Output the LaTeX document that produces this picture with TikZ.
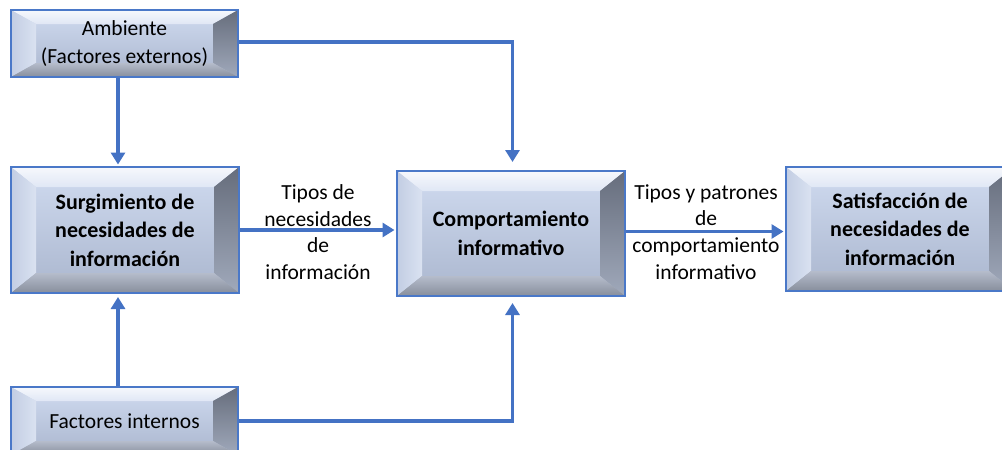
\documentclass[tikz,border=0pt]{standalone}
\usepackage{fontspec}
\setmainfont{Carlito}
\usetikzlibrary{arrows.meta,calc}
\definecolor{ablue}{HTML}{4472C4}
\definecolor{bord}{HTML}{4A78C8}
\definecolor{cTop}{HTML}{D0DBF0}
\definecolor{cBot}{HTML}{AAB6CE}
\definecolor{tfA}{HTML}{F6F8FC}
\definecolor{tfB}{HTML}{E0E7F5}
\definecolor{lfA}{HTML}{C2CDE3}
\definecolor{lfB}{HTML}{DAE2F1}
\definecolor{rfA}{HTML}{666D7C}
\definecolor{rfB}{HTML}{A0A9BB}
\definecolor{bfA}{HTML}{B5BCCB}
\definecolor{bfB}{HTML}{878E9C}
\begin{document}
\begin{tikzpicture}[x=1pt,y=-1pt,
  box/.style={draw=bord, line width=2pt, top color=cTop, bottom color=cBot,
    align=center, inner sep=0pt, text=black, font=\fontsize{21.5}{28}\selectfont},
  bevel/.style 2 args={path picture={
    \coordinate (bA) at (path picture bounding box.north west);
    \coordinate (bB) at (path picture bounding box.north east);
    \coordinate (bC) at (path picture bounding box.south east);
    \coordinate (bD) at (path picture bounding box.south west);
    \coordinate (iA) at ($(bA)+(#1pt,-#2pt)$);
    \coordinate (iB) at ($(bB)+(-#1pt,-#2pt)$);
    \coordinate (iC) at ($(bC)+(-#1pt,#2pt)$);
    \coordinate (iD) at ($(bD)+(#1pt,#2pt)$);
    \shade[top color=tfA, bottom color=tfB] (bA) -- (bB) -- (iB) -- (iA) -- cycle;
    \shade[left color=lfA, right color=lfB] (bA) -- (iA) -- (iD) -- (bD) -- cycle;
    \shade[top color=rfA, bottom color=rfB] (bB) -- (bC) -- (iC) -- (iB) -- cycle;
    \shade[top color=bfA, bottom color=bfB] (bD) -- (iD) -- (iC) -- (bC) -- cycle;
  }},
  arr/.style={draw=ablue, line width=3.5pt,
    -{Triangle[length=12pt,width=14pt]}},
  lab/.style={align=center, text=black, font=\fontsize{21.5}{26.7}\selectfont}
]
\useasboundingbox (0,0) rectangle (1002,450);
\fill[white] (0,0) rectangle (1002,450);

\node[box, bevel={25}{14}, minimum width=227pt, minimum height=67pt] (amb) at (124.5,43.5)
  {Ambiente\\(Factores externos)};
\node[box, bevel={25}{20}, minimum width=228pt, minimum height=126pt,
  font=\fontsize{22}{28.5}\selectfont\bfseries] (surg) at (125,230)
  {Surgimiento de\\necesidades de\\información};
\node[box, bevel={25}{20}, minimum width=228pt, minimum height=125pt,
  font=\fontsize{22}{28.5}\selectfont\bfseries] (comp) at (511,233.5)
  {Comportamiento\\informativo};
\node[box, bevel={25}{20}, minimum width=228pt, minimum height=124pt,
  font=\fontsize{22}{28.5}\selectfont\bfseries] (sat) at (900,229)
  {Satisfacción de\\necesidades de\\información};
\node[box, bevel={25}{14}, minimum width=227pt, minimum height=68pt] (fint) at (124.5,421)
  {Factores internos};

\node[lab] (lab1) at (318,232) {Tipos de\\necesidades\\de\\información};
\node[lab] (lab2) at (706,232) {Tipos y patrones\\de\\comportamiento\\informativo};

\draw[arr, shorten >=1.5pt] ([xshift=-6.5pt]amb.south) -- ([xshift=-7pt]surg.north);
\draw[arr, shorten >=8pt] ([yshift=1.5pt]amb.east) -| ([xshift=1.5pt]comp.north);
\draw[arr, shorten >=1.5pt] (surg.east) -- (surg.east -| comp.west);
\draw[arr, shorten >=1.5pt] ([yshift=2pt]comp.east) -- ([yshift=2pt]comp.east -| sat.west);
\draw[arr, shorten >=3pt] ([xshift=-6.5pt]fint.north) -- ([xshift=-7pt]surg.south);
\draw[arr, shorten >=6pt] (fint.east) -| ([xshift=1.5pt]comp.south);
\end{tikzpicture}
\end{document}
